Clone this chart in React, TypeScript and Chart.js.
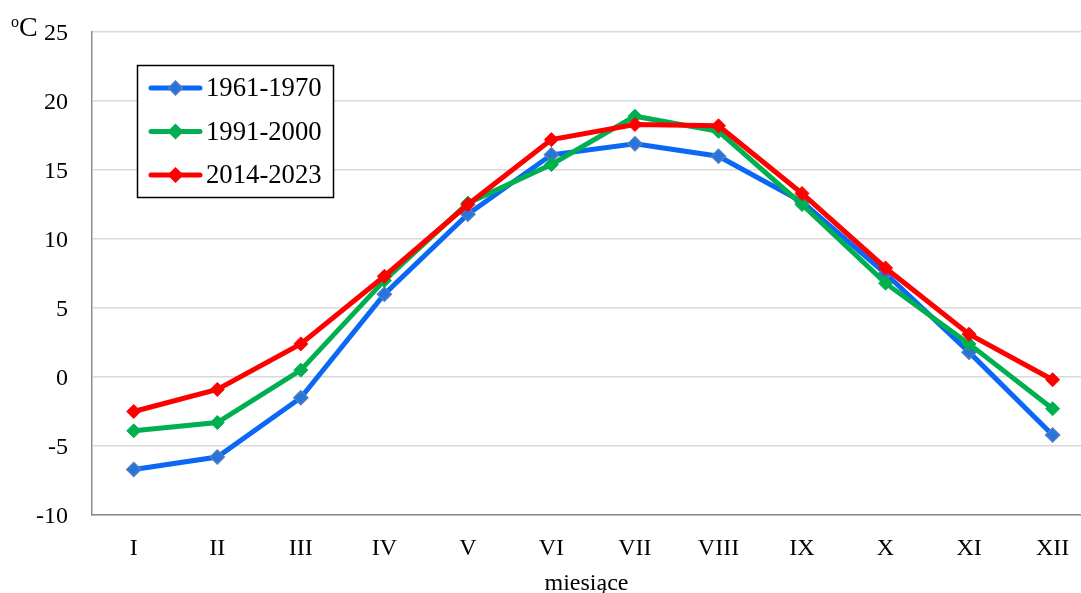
import React, { useEffect, useRef } from "react";
import { Chart, registerables } from "chart.js";

Chart.register(...registerables);

const months = ["I", "II", "III", "IV", "V", "VI", "VII", "VIII", "IX", "X", "XI", "XII"];
const series1961 = [-6.7, -5.8, -1.5, 6.0, 11.8, 16.1, 16.9, 16.0, 12.7, 7.5, 1.8, -4.2];
const series1991 = [-3.9, -3.3, 0.5, 7.0, 12.6, 15.4, 18.9, 17.8, 12.5, 6.8, 2.4, -2.3];
const series2014 = [-2.5, -0.9, 2.4, 7.3, 12.5, 17.2, 18.3, 18.2, 13.3, 7.9, 3.1, -0.2];
const yTicks = [-10, -5, 0, 5, 10, 15, 20, 25];

const FONT = "'Liberation Serif', 'Times New Roman', serif";

const legendPlugin = {
  id: "boxLegend",
  afterDraw(chart: any) {
    const ctx = chart.ctx;
    const x0 = 137.5, y0 = 65.5, w = 196, h = 132;
    ctx.save();
    ctx.fillStyle = "#fff";
    ctx.fillRect(x0, y0, w, h);
    ctx.strokeStyle = "#000";
    ctx.lineWidth = 1.5;
    ctx.strokeRect(x0, y0, w, h);
    chart.data.datasets.forEach((ds: any, i: number) => {
      const y = 88 + i * 43.5;
      ctx.strokeStyle = ds.borderColor;
      ctx.lineWidth = 5;
      ctx.lineCap = "round";
      ctx.beginPath();
      ctx.moveTo(151, y);
      ctx.lineTo(200, y);
      ctx.stroke();
      const r = 7;
      ctx.fillStyle = ds.pointBackgroundColor;
      ctx.strokeStyle = ds.pointBorderColor;
      ctx.lineWidth = 1.5;
      ctx.beginPath();
      ctx.moveTo(175.5 - r, y);
      ctx.lineTo(175.5, y - r);
      ctx.lineTo(175.5 + r, y);
      ctx.lineTo(175.5, y + r);
      ctx.closePath();
      ctx.fill();
      ctx.stroke();
      ctx.fillStyle = "#000";
      ctx.font = `26.7px ${FONT}`;
      ctx.textAlign = "left";
      ctx.textBaseline = "middle";
      ctx.fillText(ds.label, 206, y + 1);
    });
    // unit label
    ctx.fillStyle = "#000";
    ctx.textAlign = "left";
    ctx.textBaseline = "alphabetic";
    ctx.font = `16px ${FONT}`;
    ctx.fillText("o", 11, 27);
    ctx.font = `28px ${FONT}`;
    ctx.fillText("C", 19, 36);
    ctx.restore();
  },
};

export default function App() {
  const ref = useRef<HTMLCanvasElement>(null);
  useEffect(() => {
    if (!ref.current) return;
    const mk = (vals: number[]) => months.map((_, i) => ({ x: i + 1, y: vals[i] }));
    const chart = new Chart(ref.current, {
      type: "line",
      data: {
        datasets: [
          {
            label: "1961-1970",
            data: mk(series1961),
            borderColor: "#0A68F5",
            pointBackgroundColor: "#2A72DC",
            pointBorderColor: "#4F7FC0",
            pointBorderWidth: 1.5,
            borderWidth: 5,
            pointStyle: "rectRot",
            pointRadius: 7,
            order: 2,
          },
          {
            label: "1991-2000",
            data: mk(series1991),
            borderColor: "#00B050",
            pointBackgroundColor: "#00B050",
            pointBorderColor: "#00B050",
            pointBorderWidth: 1,
            borderWidth: 5,
            pointStyle: "rectRot",
            pointRadius: 7,
            order: 1,
          },
          {
            label: "2014-2023",
            data: mk(series2014),
            borderColor: "#FF0000",
            pointBackgroundColor: "#FF0000",
            pointBorderColor: "#FF0000",
            pointBorderWidth: 1,
            borderWidth: 5,
            pointStyle: "rectRot",
            pointRadius: 7,
            order: 0,
          },
        ],
      },
      options: {
        responsive: false,
        animation: false,
        layout: { autoPadding: false, padding: { top: 32, right: 0, left: 0, bottom: 0 } },
        plugins: { legend: { display: false }, tooltip: { enabled: false } },
        elements: { line: { tension: 0 } },
        scales: {
          x: {
            type: "linear",
            min: 0.5,
            max: 12.34,
            afterBuildTicks: (scale: any) => {
              scale.ticks = months.map((_, i) => ({ value: i + 1 }));
            },
            afterFit: (scale: any) => {
              scale.height = 78;
            },
            grid: { display: false },
            border: { display: true, color: "#8C8C8C", width: 1.5 },
            ticks: {
              color: "#000",
              font: { family: FONT, size: 24 },
              padding: 11,
              maxRotation: 0,
              autoSkip: false,
              callback: (v: any) => months[Number(v) - 1] ?? "",
            },
            title: {
              display: true,
              text: "miesiące",
              color: "#000",
              font: { family: FONT, size: 24, lineHeight: 0.8 },
              padding: { top: 0, bottom: 0 },
            },
          },
          y: {
            min: -10,
            max: 25,
            afterBuildTicks: (scale: any) => {
              scale.ticks = yTicks.map((v) => ({ value: v }));
            },
            afterFit: (scale: any) => {
              scale.width = 92;
              scale.paddingTop = 0;
              scale.paddingBottom = 0;
            },
            grid: { color: "#D9D9D9", lineWidth: 1.5, drawTicks: false },
            border: { display: true, color: "#8C8C8C", width: 1.5 },
            ticks: {
              color: "#000",
              font: { family: FONT, size: 24 },
              padding: 24,
              labelOffset: 2,
            },
          },
        },
      },
      plugins: [legendPlugin],
    });
    return () => chart.destroy();
  }, []);
  return (
    <div style={{ position: "fixed", left: 0, top: 0, width: 1081, height: 593, background: "#fff" }}>
      <canvas ref={ref} width={1081} height={593} style={{ display: "block" }} />
    </div>
  );
}
